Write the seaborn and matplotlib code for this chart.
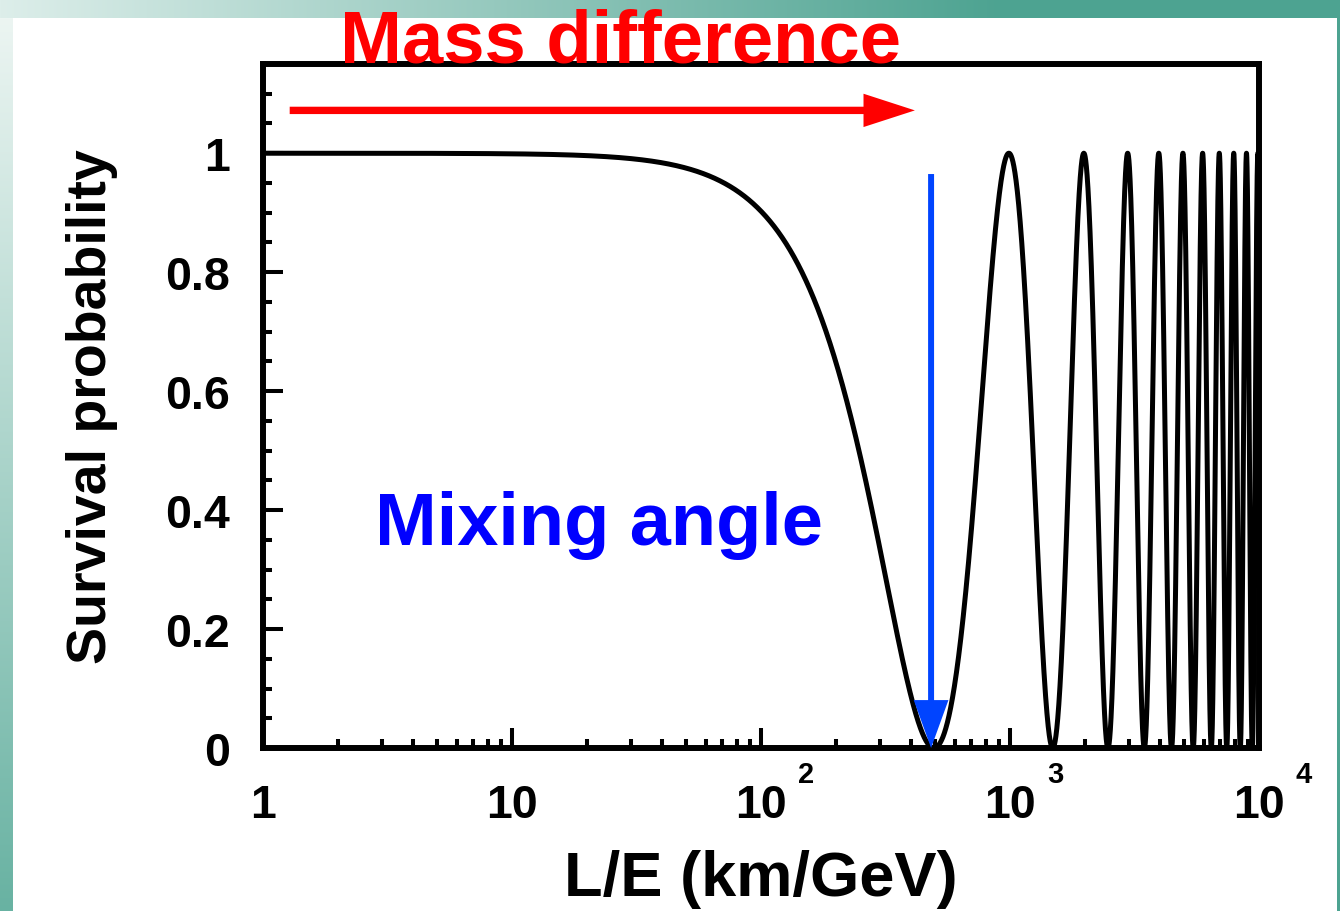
import numpy as np
import pandas as pd
import matplotlib
matplotlib.use("Agg")
import matplotlib.pyplot as plt
from matplotlib.ticker import MultipleLocator, LogLocator, NullFormatter
import seaborn as sns

# ---------------- data ----------------
# two-flavour survival probability: P = 1 - sin^2(2θ) sin^2(1.27 Δm² L/E)
dm2_ev2 = 2.5e-3        # first maximum after the dip sits at L/E ≈ 1000 km/GeV
sin2_2theta = 1.0       # dip reaches zero
le_range = [1.0, 1.0e4]
x_ticks = [1, 10, 100, 1000, 10000]
x_tick_labels = ["1", "10", "10", "10", "10"]
x_tick_exponents = ["", "", "2", "3", "4"]
y_ticks = [0, 0.2, 0.4, 0.6, 0.8, 1.0]
y_tick_labels = ["0", "0.2", "0.4", "0.6", "0.8", "1"]
y_limits = [0, 1.15]
mass_arrow_x = [1.28, 415.0]
mass_arrow_y = 1.072
mix_arrow_x = 482.0
mix_arrow_y = [0.965, 0.0]
title_text = "Mass difference"
mix_text = "Mixing angle"
x_label = "L/E (km/GeV)"
y_label = "Survival probability"

le = np.logspace(np.log10(le_range[0]), np.log10(le_range[1]), 60000)
prob = 1.0 - sin2_2theta * np.sin(1.27 * dm2_ev2 * le) ** 2
df = pd.DataFrame({"LE": le, "P": prob})

# ---------------- style ----------------
sns.set_theme(style="ticks")
plt.rcParams["font.family"] = ["Liberation Sans", "DejaVu Sans"]
plt.rcParams["font.weight"] = "bold"
plt.rcParams["text.color"] = "black"
plt.rcParams["xtick.color"] = "black"
plt.rcParams["ytick.color"] = "black"
plt.rcParams["xtick.labelcolor"] = "black"
plt.rcParams["ytick.labelcolor"] = "black"

W, H = 1340, 912
fig = plt.figure(figsize=(W / 100, H / 100), dpi=100)

# slide-like background frame
bg = np.ones((H, W, 3))
teal = np.array([77, 163, 145]) / 255
light = np.array([221, 238, 234]) / 255
t = np.clip(np.arange(W) / 1000.0, 0, 1)[:, None]
bg[:19, :, :] = (light * (1 - t) + teal * t)[None, :, :]
lt = np.array([236, 245, 242]) / 255
bt = np.array([104, 178, 162]) / 255
s = np.clip((np.arange(H) - 19) / (H - 19), 0, 1)[:, None]
bg[19:, :13, :] = (lt * (1 - s) + bt * s)[19:, None, :]
bg[19:, 1337:, :] = teal
bax = fig.add_axes([0, 0, 1, 1], zorder=-10)
bax.imshow(bg, aspect="auto", extent=[0, W, H, 0])
bax.set_axis_off()

ax = fig.add_axes([263 / W, 1 - 749 / H, 996 / W, 684 / H])
ax.set_facecolor("none")

sns.lineplot(data=df, x="LE", y="P", ax=ax, color="black", lw=3.6,
             estimator=None, sort=False)

ax.set_xscale("log")
ax.set_xlim(le_range)
ax.set_ylim(y_limits)

ax.set_xticks(x_ticks, x_tick_labels)
ax.xaxis.set_minor_locator(LogLocator(base=10, subs=np.arange(2, 10)))
ax.xaxis.set_minor_formatter(NullFormatter())
ax.set_yticks(y_ticks, y_tick_labels)
ax.yaxis.set_minor_locator(MultipleLocator(0.05))

ax.tick_params(which="both", direction="in", top=False, right=False,
               width=2.9, color="black", labelcolor="black", labelsize=33.5)
ax.tick_params(which="major", length=14.5)
ax.tick_params(which="minor", length=6.5)
ax.tick_params(axis="x", which="major", pad=49.5)
ax.tick_params(axis="y", which="major", pad=24)
for lab in ax.get_xticklabels():
    lab.set_va("baseline")
    lab.set_fontweight("bold")
for lab in ax.get_yticklabels():
    lab.set_fontweight("bold")

# superscript exponents of the decade labels
for xt, ex in zip(x_ticks, x_tick_exponents):
    if ex:
        ax.annotate(ex, xy=(xt, 0), xycoords=("data", "axes fraction"),
                    xytext=(26.5, -24.5), textcoords="offset points",
                    ha="left", va="baseline", fontsize=21, fontweight="bold",
                    color="black", annotation_clip=False)

for sp in ax.spines.values():
    sp.set_linewidth(4.3)
    sp.set_color("black")
    sp.set_visible(True)

ax.set_xlabel(x_label, fontsize=45.5, fontweight="bold", color="black")
ax.set_ylabel(y_label, fontsize=40, fontweight="bold", color="black")
ax.xaxis.set_label_coords(0.5, -0.1477)
ax.yaxis.set_label_coords(-0.146, 0.5)

# arrows
ax.annotate("", xy=(mass_arrow_x[1], mass_arrow_y), xytext=(mass_arrow_x[0], mass_arrow_y),
            arrowprops=dict(arrowstyle="simple,head_length=37,head_width=24,tail_width=5.3",
                            mutation_scale=1, color="#ff0000", lw=0,
                            shrinkA=0, shrinkB=0))
ax.annotate("", xy=(mix_arrow_x, mix_arrow_y[1]), xytext=(mix_arrow_x, mix_arrow_y[0]),
            arrowprops=dict(arrowstyle="simple,head_length=34.5,head_width=25,tail_width=4.3",
                            mutation_scale=1, color="#0044ff", lw=0,
                            shrinkA=0, shrinkB=0), annotation_clip=False)

ax.text(0.0773, 1.004, title_text, transform=ax.transAxes, fontsize=53.5,
        color="#ff0000", fontweight="bold", ha="left", va="baseline", clip_on=False)
ax.text(0.1124, 0.298, mix_text, transform=ax.transAxes, fontsize=53.3,
        color="#0000ff", fontweight="bold", ha="left", va="baseline")

fig.savefig("out.png", dpi=100)
